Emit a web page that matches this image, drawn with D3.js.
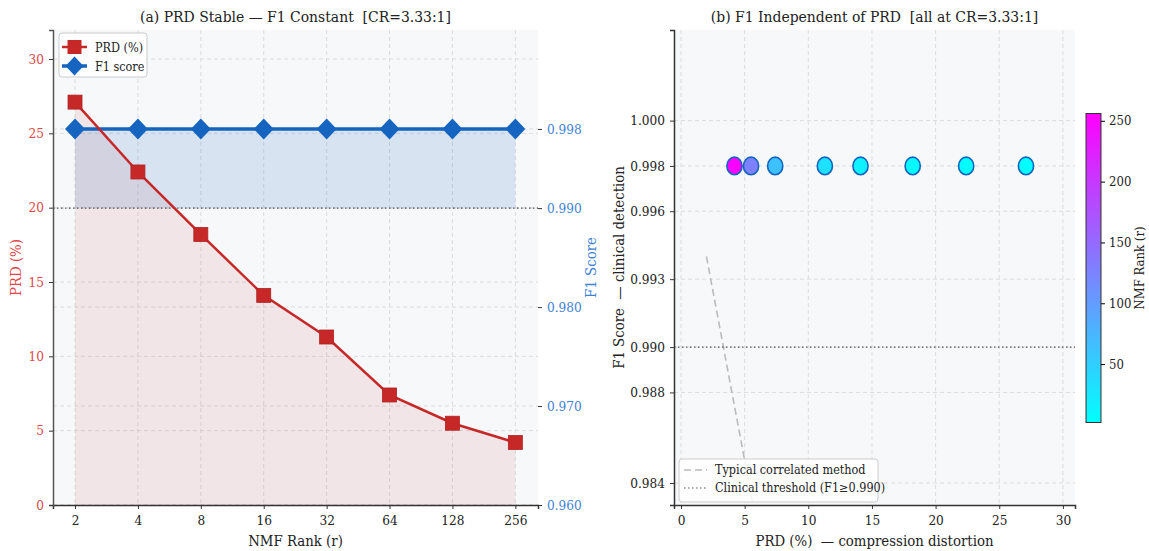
<!DOCTYPE html>
<html>
<head>
<meta charset="utf-8">
<script src="https://cdn.jsdelivr.net/npm/d3@7"></script>
<style>
  body { margin: 0; background: #fff; }
  svg text { font-family: "DejaVu Serif Condensed", "DejaVu Serif", serif; font-stretch: condensed; white-space: pre; }
</style>
</head>
<body>
<svg width="1149" height="551"></svg>
<script>
// data
var ranks = [2, 4, 8, 16, 32, 64, 128, 256];
var prd = [27.1, 22.4, 18.2, 14.1, 11.3, 7.4, 5.5, 4.2];
var f1 = [0.998, 0.998, 0.998, 0.998, 0.998, 0.998, 0.998, 0.998];
var prdTicks = [0, 5, 10, 15, 20, 25, 30];
var f1TicksA = [0.960, 0.970, 0.980, 0.990, 0.998];
var f1TicksB = [0.984, 0.988, 0.990, 0.993, 0.996, 0.998, 1.000];
var prdTicksB = [0, 5, 10, 15, 20, 25, 30];
var rankTicks = [50, 100, 150, 200, 250];
var typicalPRD = [2, 30];
var typicalF1 = [0.994, 0.910];
var threshold = 0.990;

var FONT = '"DejaVu Serif Condensed", "DejaVu Serif", serif';
var svg = d3.select("svg");
var red = "#c62828", blue = "#1565c0";
var redTxt = "#e04848", blueTxt = "#3f82d6";
var gridCol = "#dcdcdc";

// ---------- panel (a) ----------
var a = { l: 53, r: 538, t: 30, b: 505 };
var x = d3.scaleLog().base(2).domain([Math.pow(2, 0.65), Math.pow(2, 8.36)]).range([a.l, a.r]);
var yL = d3.scaleLinear().domain([0, 31.95]).range([a.b, a.t]);
var yR = d3.scaleLinear().domain([0.960, 1.008]).range([a.b, a.t]);

var ga = svg.append("g");
ga.append("rect").attr("x", a.l).attr("y", a.t).attr("width", a.r - a.l).attr("height", a.b - a.t).attr("fill", "#f7f8fa");

// grids
ga.selectAll(".vg").data(ranks).enter().append("line")
    .attr("x1", d => x(d)).attr("x2", d => x(d)).attr("y1", a.t).attr("y2", a.b)
    .attr("stroke", gridCol).attr("stroke-dasharray", "4,3");
ga.selectAll(".hgl").data(prdTicks).enter().append("line")
    .attr("x1", a.l).attr("x2", a.r).attr("y1", d => yL(d)).attr("y2", d => yL(d))
    .attr("stroke", gridCol).attr("stroke-dasharray", "4,3");
ga.selectAll(".hgr").data(f1TicksA).enter().append("line")
    .attr("x1", a.l).attr("x2", a.r).attr("y1", d => yR(d)).attr("y2", d => yR(d))
    .attr("stroke", gridCol).attr("stroke-dasharray", "4,3");

// fills
var pts = ranks.map((r, i) => ({ r: r, p: prd[i], f: f1[i] }));
ga.append("path").datum(pts)
    .attr("d", d3.area().x(d => x(d.r)).y0(yL(0)).y1(d => yL(d.p)))
    .attr("fill", red).attr("fill-opacity", 0.09);
ga.append("path").datum(pts)
    .attr("d", d3.area().x(d => x(d.r)).y0(yR(threshold)).y1(d => yR(d.f)))
    .attr("fill", blue).attr("fill-opacity", 0.14);

// threshold
ga.append("line").attr("x1", a.l).attr("x2", a.r).attr("y1", yR(threshold)).attr("y2", yR(threshold))
    .attr("stroke", "#555").attr("stroke-width", 1.2).attr("stroke-dasharray", "1.5,2.5");

// F1 line
ga.append("path").datum(pts)
    .attr("d", d3.line().x(d => x(d.r)).y(d => yR(d.f)))
    .attr("fill", "none").attr("stroke", blue).attr("stroke-width", 3.5);
ga.selectAll(".dia").data(pts).enter().append("path")
    .attr("transform", d => "translate(" + x(d.r) + "," + yR(d.f) + ")")
    .attr("d", "M0,-10.5L10,0L0,10.5L-10,0Z").attr("fill", blue);

// PRD line
ga.append("path").datum(pts)
    .attr("d", d3.line().x(d => x(d.r)).y(d => yL(d.p)))
    .attr("fill", "none").attr("stroke", red).attr("stroke-width", 2.5);
ga.selectAll(".sq").data(pts).enter().append("rect")
    .attr("x", d => x(d.r) - 7).attr("y", d => yL(d.p) - 7)
    .attr("width", 14).attr("height", 14).attr("fill", red).attr("stroke", "#b22222").attr("stroke-width", 0.8);

// axes
var axB = ga.append("g").attr("transform", "translate(0," + a.b + ")")
    .call(d3.axisBottom(x).tickValues(ranks).tickFormat(d3.format("d")).tickSize(4).tickPadding(6));
var axL = ga.append("g").attr("transform", "translate(" + a.l + ",0)")
    .call(d3.axisLeft(yL).tickValues(prdTicks).tickSize(4).tickPadding(5));
var axR = ga.append("g").attr("transform", "translate(" + a.r + ",0)")
    .call(d3.axisRight(yR).tickValues(f1TicksA).tickFormat(d3.format(".3f")).tickSize(4).tickPadding(5));
[axB, axL, axR].forEach(g => g.selectAll("text").attr("font-family", FONT).attr("font-size", 13.5));
axB.selectAll("text").attr("fill", "#222");
axL.selectAll("text").attr("fill", redTxt);
axR.selectAll("text").attr("fill", blueTxt);
axB.select(".domain").attr("stroke", "#333").attr("stroke-width", 1.5);
axL.select(".domain").attr("stroke", "#555").attr("stroke-width", 1.5);
axR.select(".domain").remove();
[axB, axL, axR].forEach(g => g.selectAll(".tick line").attr("stroke", "#333"));

ga.append("text").attr("x", (a.l + a.r) / 2).attr("y", 22).attr("text-anchor", "middle")
    .attr("font-size", 15.5).attr("fill", "#222").text("(a) PRD Stable — F1 Constant  [CR=3.33:1]");
ga.append("text").attr("x", (a.l + a.r) / 2).attr("y", 546).attr("text-anchor", "middle")
    .attr("font-size", 14.8).attr("fill", "#222").text("NMF Rank (r)");
ga.append("text").attr("transform", "translate(21," + ((a.t + a.b) / 2) + ") rotate(-90)")
    .attr("text-anchor", "middle").attr("font-size", 14.8).attr("fill", redTxt).text("PRD (%)");
ga.append("text").attr("transform", "translate(596," + ((a.t + a.b) / 2) + ") rotate(-90)")
    .attr("text-anchor", "middle").attr("font-size", 14.8).attr("fill", blueTxt).text("F1 Score");

// legend (a)
var lg = ga.append("g").attr("transform", "translate(59,33)");
lg.append("rect").attr("width", 88).attr("height", 44).attr("rx", 3)
    .attr("fill", "#fff").attr("fill-opacity", 0.85).attr("stroke", "#ccc");
lg.append("line").attr("x1", 3).attr("x2", 28).attr("y1", 14).attr("y2", 14).attr("stroke", red).attr("stroke-width", 2.5);
lg.append("rect").attr("x", 8.5).attr("y", 7).attr("width", 14).attr("height", 14).attr("fill", red);
lg.append("text").attr("x", 36).attr("y", 18.5).attr("font-size", 12.5).attr("fill", "#222").text("PRD (%)");
lg.append("line").attr("x1", 3).attr("x2", 28).attr("y1", 33).attr("y2", 33).attr("stroke", blue).attr("stroke-width", 3.5);
lg.append("path").attr("transform", "translate(15.5,33)").attr("d", "M0,-9.5L9,0L0,9.5L-9,0Z").attr("fill", blue);
lg.append("text").attr("x", 36).attr("y", 37.5).attr("font-size", 12.5).attr("fill", "#222").text("F1 score");

// ---------- panel (b) ----------
var b = { l: 674, r: 1075, t: 30, b: 505 };
var xb = d3.scaleLinear().domain([-0.55, 30.95]).range([b.l, b.r]);
var yb = d3.scaleLinear().domain([0.98303, 1.00400]).range([b.b, b.t]);
var color = d3.scaleSequential(t => d3.rgb(255 * t, 255 * (1 - t), 255) + "").domain([2, 256]);

var gb = svg.append("g");
gb.append("rect").attr("x", b.l).attr("y", b.t).attr("width", b.r - b.l).attr("height", b.b - b.t).attr("fill", "#f7f8fa");
gb.selectAll(".vg").data(prdTicksB).enter().append("line")
    .attr("x1", d => xb(d)).attr("x2", d => xb(d)).attr("y1", b.t).attr("y2", b.b)
    .attr("stroke", gridCol).attr("stroke-dasharray", "4,3");
gb.selectAll(".hg").data(f1TicksB).enter().append("line")
    .attr("x1", b.l).attr("x2", b.r).attr("y1", d => yb(d)).attr("y2", d => yb(d))
    .attr("stroke", gridCol).attr("stroke-dasharray", "4,3");

gb.append("clipPath").attr("id", "clipb").append("rect")
    .attr("x", b.l).attr("y", b.t).attr("width", b.r - b.l).attr("height", b.b - b.t);

// typical correlated method line
gb.append("line").attr("clip-path", "url(#clipb)")
    .attr("x1", xb(typicalPRD[0])).attr("y1", yb(typicalF1[0]))
    .attr("x2", xb(typicalPRD[1])).attr("y2", yb(typicalF1[1]))
    .attr("stroke", "#bbb").attr("stroke-width", 1.6).attr("stroke-dasharray", "7,4");
gb.append("line").attr("x1", b.l).attr("x2", b.r).attr("y1", yb(threshold)).attr("y2", yb(threshold))
    .attr("stroke", "#555").attr("stroke-width", 1.2).attr("stroke-dasharray", "1.5,2.5");

// scatter
gb.selectAll(".pt").data(pts).enter().append("ellipse")
    .attr("cx", d => xb(d.p)).attr("cy", d => yb(d.f)).attr("rx", 7.6).attr("ry", 8.8)
    .attr("fill", d => color(d.r)).attr("stroke", blue).attr("stroke-width", 1.6);

var bxB = gb.append("g").attr("transform", "translate(0," + b.b + ")")
    .call(d3.axisBottom(xb).tickValues(prdTicksB).tickSize(4).tickPadding(6));
var bxL = gb.append("g").attr("transform", "translate(" + b.l + ",0)")
    .call(d3.axisLeft(yb).tickValues(f1TicksB).tickFormat(d3.format(".3f")).tickSize(4).tickPadding(5));
[bxB, bxL].forEach(g => {
  g.selectAll("text").attr("font-family", FONT).attr("font-size", 13.5).attr("fill", "#222");
  g.select(".domain").attr("stroke", "#333").attr("stroke-width", 1.5);
  g.selectAll(".tick line").attr("stroke", "#333");
});

gb.append("text").attr("x", (b.l + b.r) / 2).attr("y", 22).attr("text-anchor", "middle")
    .attr("font-size", 15.5).attr("fill", "#222").text("(b) F1 Independent of PRD  [all at CR=3.33:1]");
gb.append("text").attr("x", (b.l + b.r) / 2).attr("y", 546).attr("text-anchor", "middle")
    .attr("font-size", 14.8).attr("fill", "#222").text("PRD (%)  — compression distortion");
gb.append("text").attr("transform", "translate(624," + ((b.t + b.b) / 2) + ") rotate(-90)")
    .attr("text-anchor", "middle").attr("font-size", 14.8).attr("fill", "#222").text("F1 Score  — clinical detection");

// legend (b)
var lb = gb.append("g").attr("transform", "translate(679,459)");
lb.append("rect").attr("width", 199).attr("height", 43).attr("rx", 3)
    .attr("fill", "#fff").attr("fill-opacity", 0.85).attr("stroke", "#ccc");
lb.append("line").attr("x1", 5).attr("x2", 28).attr("y1", 11).attr("y2", 11)
    .attr("stroke", "#bbb").attr("stroke-width", 1.6).attr("stroke-dasharray", "7,4");
lb.append("text").attr("x", 36).attr("y", 15).attr("font-size", 12.5).attr("fill", "#222").text("Typical correlated method");
lb.append("line").attr("x1", 5).attr("x2", 28).attr("y1", 29).attr("y2", 29)
    .attr("stroke", "#555").attr("stroke-width", 1.2).attr("stroke-dasharray", "1.5,2.5");
lb.append("text").attr("x", 36).attr("y", 33).attr("font-size", 12.5).attr("fill", "#222").text("Clinical threshold (F1≥0.990)");

// colorbar
var cb = { x: 1086, w: 15, t: 113.5, b: 422.5 };
var yc = d3.scaleLinear().domain([2, 256]).range([cb.b, cb.t]);
var defs = svg.append("defs");
var grad = defs.append("linearGradient").attr("id", "cool").attr("x1", 0).attr("y1", 1).attr("x2", 0).attr("y2", 0);
grad.selectAll("stop").data([0, 1]).enter().append("stop")
    .attr("offset", d => d).attr("stop-color", d => color(2 + d * 254));
svg.append("rect").attr("x", cb.x).attr("y", cb.t).attr("width", cb.w).attr("height", cb.b - cb.t)
    .attr("fill", "url(#cool)").attr("stroke", "#333").attr("stroke-width", 1);
var cax = svg.append("g").attr("transform", "translate(" + (cb.x + cb.w) + ",0)")
    .call(d3.axisRight(yc).tickValues(rankTicks).tickSize(4).tickPadding(4));
cax.select(".domain").remove();
cax.selectAll("text").attr("font-family", FONT).attr("font-size", 13).attr("fill", "#222");
svg.append("text").attr("transform", "translate(1144," + ((cb.t + cb.b) / 2) + ") rotate(-90)")
    .attr("text-anchor", "middle").attr("font-size", 13).attr("fill", "#222").text("NMF Rank (r)");
</script>
</body>
</html>
